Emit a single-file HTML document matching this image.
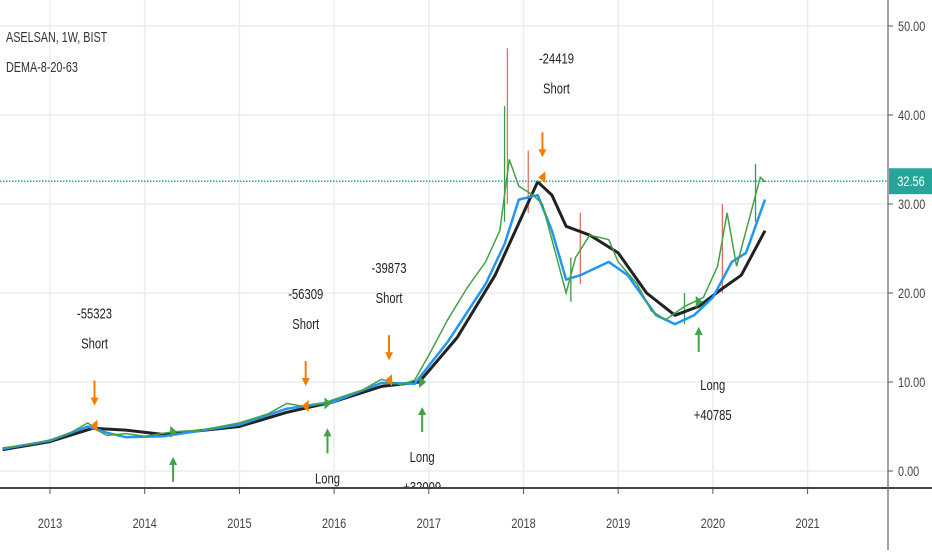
<!DOCTYPE html>
<html><head><meta charset="utf-8"><style>
body{margin:0;background:#fff;width:932px;height:550px;overflow:hidden;font-family:"Liberation Sans",sans-serif}
svg text{font-family:"Liberation Sans",sans-serif}
</style></head><body>
<svg id="c" width="932" height="550" xmlns="http://www.w3.org/2000/svg"></svg>
<script>
const closeT=[2012.5,2012.8,2013.0,2013.2,2013.4,2013.5,2013.6,2013.8,2014.0,2014.3,2014.6,2015.0,2015.3,2015.5,2015.7,2015.85,2016.1,2016.3,2016.5,2016.7,2016.85,2017.0,2017.2,2017.4,2017.6,2017.75,2017.85,2017.95,2018.1,2018.2,2018.3,2018.45,2018.55,2018.7,2018.9,2019.0,2019.2,2019.35,2019.5,2019.7,2019.9,2020.05,2020.15,2020.25,2020.4,2020.5,2020.55];
const closeV=[2.6,3.0,3.5,4.2,5.4,4.6,4.0,4.2,3.9,4.4,4.6,5.4,6.4,7.6,7.2,7.5,8.4,9.1,10.3,9.7,10.2,13,17,20.5,23.5,27,35,32,31,30,26,20,24,26.5,26,23.5,21,18,17,18.5,19.5,23,29,23,29,33,32.5];
const fastT=[2012.5,2013.0,2013.4,2013.6,2013.8,2014.2,2015.0,2015.5,2016.0,2016.5,2016.85,2017.2,2017.6,2017.8,2017.95,2018.15,2018.3,2018.45,2018.6,2018.9,2019.1,2019.4,2019.6,2019.8,2020.0,2020.2,2020.35,2020.55];
const fastV=[2.5,3.4,5.0,4.3,3.8,3.9,5.2,7.0,7.8,9.9,9.8,14.5,21,25.5,30.5,31,27,21.5,22,23.5,22,17.5,16.5,17.5,19.5,23.5,24.5,30.5];
const slowT=[2012.5,2013.0,2013.45,2013.8,2014.2,2015.0,2015.5,2016.0,2016.5,2016.9,2017.3,2017.7,2018.0,2018.15,2018.3,2018.45,2018.7,2019.0,2019.3,2019.6,2019.85,2020.1,2020.3,2020.55];
const slowV=[2.4,3.3,4.8,4.6,4.1,5.0,6.6,7.8,9.5,10.0,15,22,29,32.5,31,27.5,26.5,24.5,20,17.5,18.5,20.5,22,27];
const wickT=[2017.83,2017.8,2018.05,2018.5,2018.6,2019.7,2020.1,2020.45];
const wickLo=[30,28,29,19,21,16.5,20,28];
const wickHi=[47.5,41,36,24,29,20,30,34.5];
const yTicks=[0,10,20,30,40,50];
const years=[2013,2014,2015,2016,2017,2018,2019,2020,2021];
const lastPrice=32.56;
const signals=[
 {t:2013.47,v:5.1,type:"short",lbl:["-55323","Short"]},
 {t:2014.3,v:4.4,type:"long",lbl:[]},
 {t:2015.7,v:7.3,type:"short",lbl:["-56309","Short"]},
 {t:2015.93,v:7.6,type:"long",lbl:["Long"]},
 {t:2016.58,v:10.2,type:"short",lbl:["-39873","Short"]},
 {t:2016.93,v:10.0,type:"long",lbl:["Long","+32009"]},
 {t:2018.2,v:33,type:"short",lbl:["-24419","Short"]},
 {t:2019.85,v:19,type:"long",lbl:["Long","+40785"]}];
const X=t=>50+(t-2013)*94.7, Y=v=>471-8.9*v;
const s=document.getElementById('c'),NS="http://www.w3.org/2000/svg";
function mk(tag,a,txt,parent){const e=document.createElementNS(NS,tag);for(const k in a)e.setAttribute(k,a[k]);if(txt!==undefined)e.textContent=txt;(parent||s).appendChild(e);return e;}
function tx(x,y,str,size,fill,anchor,sx,parent){return mk('text',{x:0,y:0,'font-size':size,fill:fill,'text-anchor':anchor||'start',transform:`translate(${x},${y}) scale(${sx||0.78},1)`},str,parent);}
const clip=mk('clipPath',{id:'pc'});mk('rect',{x:0,y:0,width:888,height:487},undefined,clip);
for(const v of yTicks){const g=mk('line',{x1:0,x2:888,y1:Y(v),y2:Y(v),stroke:'#e8edf2','stroke-width':1.5});
 const tk=mk('line',{x1:888,x2:893,y1:Y(v),y2:Y(v),stroke:'#555'});
 const l=tx(898,Y(v)+5,v.toFixed(2),14,'#444');}
for(const y of years){const g=mk('line',{x1:X(y),x2:X(y),y1:0,y2:488,stroke:'#e8edf2','stroke-width':1.5});
 const tk=mk('line',{x1:X(y),x2:X(y),y1:488,y2:494,stroke:'#555'});
 const l=tx(X(y),528,String(y),14,'#444','middle');}
wickT.forEach((t,i)=>{const w=mk('line',{x1:X(t),x2:X(t),y1:Y(wickLo[i]),y2:Y(wickHi[i]),stroke:i%2?'#3a9a4a':'#e07060','stroke-width':1.3});});
function path(T,V){return T.map((t,i)=>(i?'L':'M')+X(t).toFixed(1)+','+Y(V[i]).toFixed(1)).join('');}
const sl=mk('path',{d:path(slowT,slowV),fill:'none',stroke:'#222','stroke-width':3,'stroke-linejoin':'round'});
const fl=mk('path',{d:path(fastT,fastV),fill:'none',stroke:'#2196f3','stroke-width':2.5,'stroke-linejoin':'round'});
const cl=mk('path',{d:path(closeT,closeV),fill:'none',stroke:'#43a047','stroke-width':1.5});
const pl=mk('line',{x1:0,x2:888,y1:Y(lastPrice),y2:Y(lastPrice),stroke:'#26a69a','stroke-width':1.5,'stroke-dasharray':'1.5 1.5'});
const lblG=mk('g',{'clip-path':'url(#pc)'});
signals.forEach(sg=>{const x=X(sg.t);let ay0,ay1,col;
 if(sg.type==='short'){col='#f57c00';ay0=Y(sg.v)-45;ay1=Y(sg.v)-22;}else{col='#43a047';ay0=Y(sg.v)+50;ay1=Y(sg.v)+27;}
 const g=mk('g',{});
 mk('line',{x1:x,x2:x,y1:ay0,y2:ay1,stroke:col,'stroke-width':2},undefined,g);
 const d=sg.type==='short'?1:-1;
 mk('path',{d:`M${x-4},${ay1-6*d}L${x+4},${ay1-6*d}L${x},${ay1+2*d}Z`,fill:col},undefined,g);
 const mkx=mk('path',{d:sg.type==='short'?`M${x+3},${Y(sg.v)-6}L${x+3},${Y(sg.v)+6}L${x-4},${Y(sg.v)}Z`:`M${x-3},${Y(sg.v)-6}L${x-3},${Y(sg.v)+6}L${x+4},${Y(sg.v)}Z`,fill:col});
 sg.lbl.forEach((t,k)=>{let ty;
  if(sg.type==='short'){ty=ay0-62+k*30+(sg.t>2018?-7:0);}else{ty=ay0+(sg.t>2019?38:30)+k*30;}
  const e=tx(x+(sg.t>2018?14:0),ty,t,15,'#222','middle',0.75,lblG);});
});
const ax=mk('line',{x1:0,x2:932,y1:488,y2:488,stroke:'#444','stroke-width':2});
const ay=mk('line',{x1:888,x2:888,y1:0,y2:550,stroke:'#666','stroke-width':1.2});
const bx=mk('rect',{x:889,y:Y(lastPrice)-13,width:43,height:26,fill:'#26a69a'});
const bt=tx(911,Y(lastPrice)+5,lastPrice.toFixed(2),14,'#fff','middle');
const t1=tx(6,42,'ASELSAN, 1W, BIST',15,'#333','start',0.72);
const t2=tx(6,72,'DEMA-8-20-63',15,'#333','start',0.72);
</script>
</body></html>
